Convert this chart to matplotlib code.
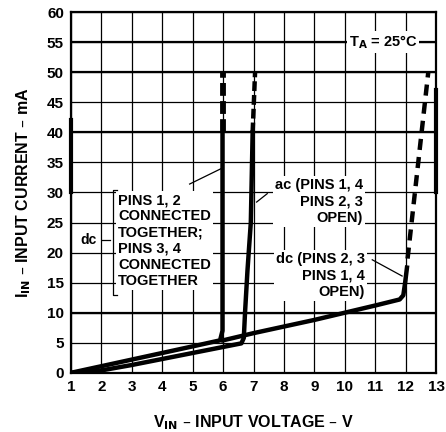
import matplotlib.pyplot as plt

plt.rcParams['font.family'] = ['Liberation Sans', 'DejaVu Sans']
plt.rcParams['font.weight'] = 'bold'
plt.rcParams['axes.labelweight'] = 'bold'
plt.rcParams['mathtext.default'] = 'bf'

# axis ticks
x_ticks = list(range(1, 14))
y_ticks = list(range(0, 61, 5))

# dc, pins 1,2 together and pins 3,4 together (solid part, then dashed)
dc12_v = [1.0, 2.0, 3.0, 4.0, 5.0, 5.9, 5.98, 5.98, 5.98]
dc12_i = [0.0, 1.1, 2.2, 3.3, 4.4, 5.4, 7.0, 20.0, 40.0]
dc12_dash_v = [5.98, 5.98]
dc12_dash_i = [40.0, 50.0]

# ac, pins 1,4 / pins 2,3 open
ac_v = [1.0, 2.0, 3.0, 4.0, 5.0, 6.0, 6.6, 6.68, 6.72, 6.8, 6.91, 6.97]
ac_i = [0.0, 0.4, 1.3, 2.3, 3.3, 4.3, 4.9, 5.8, 10.0, 17.0, 25.0, 40.0]
ac_dash_v = [6.97, 7.05]
ac_dash_i = [40.0, 50.0]

# dc, pins 2,3 / pins 1,4 open
dc23_v = [6.0, 7.0, 8.0, 9.0, 10.0, 11.0, 11.8, 11.92, 11.98, 12.04]
dc23_i = [5.4, 6.6, 7.7, 8.8, 10.0, 11.2, 12.2, 12.9, 15.0, 17.5]
dc23_dash_v = [12.06, 12.74]
dc23_dash_i = [19.0, 50.0]

fig = plt.figure(figsize=(4.46, 4.32), dpi=100)
ax = fig.add_axes([0.159, 0.137, 0.819, 0.835])

ax.set_xlim(1, 13)
ax.set_ylim(0, 60)
ax.set_xticks(x_ticks)
ax.set_yticks(y_ticks)
ax.tick_params(length=0, labelsize=11, pad=5)
for s in ax.spines.values():
    s.set_linewidth(1.6)
ax.grid(True, color='black', linewidth=0.9)
for yy in [10, 40, 50, 55]:
    ax.axhline(yy, color='black', linewidth=1.6, zorder=1)
ax.set_axisbelow(True)

# heavier bits along the borders, as in the print
ax.plot([1, 1], [30, 42], color='black', lw=3, clip_on=False)
ax.plot([13, 13], [30, 47], color='black', lw=3, clip_on=False)

lw = 3.2
ax.plot(dc12_v, dc12_i, color='black', lw=lw, solid_capstyle='butt', zorder=4)
ax.plot(dc12_dash_v, dc12_dash_i, color='black', lw=lw + 1, ls=(0, (2.2, 0.9)), zorder=4)
ax.plot(ac_v, ac_i, color='black', lw=lw, zorder=4)
ax.plot(ac_dash_v, ac_dash_i, color='black', lw=lw, ls=(0, (2.2, 0.9)), zorder=4)
ax.plot(dc23_v, dc23_i, color='black', lw=lw, zorder=4)
ax.plot(dc23_dash_v, dc23_dash_i, color='black', lw=lw, ls=(0, (2.5, 1.6)), zorder=4)

box = dict(facecolor='white', edgecolor='none', pad=1.5)
ax.text(11.25, 55, 'T$_A$ = 25°C', ha='center', va='center', fontsize=10.5, bbox=box, zorder=3)

ax.text(10.6, 28.5, 'ac (PINS 1, 4\nPINS 2, 3\nOPEN)', ha='right', va='center',
        fontsize=10.5, linespacing=1.22, bbox=box, zorder=3)
ax.plot([7.45, 7.1], [29.8, 28.4], color='black', lw=0.9, zorder=3)

ax.text(10.65, 16.2, 'dc (PINS 2, 3\nPINS 1, 4\nOPEN)', ha='right', va='center',
        fontsize=10.5, linespacing=1.22, bbox=box, zorder=3)
ax.plot([10.9, 11.88], [18.8, 16.1], color='black', lw=0.9, zorder=3)

ax.text(2.55, 22.0, 'PINS 1, 2\nCONNECTED\nTOGETHER;\nPINS 3, 4\nCONNECTED\nTOGETHER',
        ha='left', va='center', fontsize=10.5, linespacing=1.2, bbox=box, zorder=3)
ax.plot([2.5, 2.38, 2.38, 2.5], [30.4, 30.4, 13.0, 13.0], color='black', lw=0.9, zorder=3)
ax.text(1.58, 22.1, 'dc', ha='center', va='center', fontsize=10, bbox=box, zorder=3)
ax.plot([2.02, 2.3], [22.1, 22.1], color='black', lw=0.9, zorder=3)
ax.plot([4.9, 5.95], [31.4, 34.0], color='black', lw=0.9, zorder=3)

ax.set_xlabel('V$_{IN}$ – INPUT VOLTAGE – V', fontsize=11.5, labelpad=14)
ax.set_ylabel('I$_{IN}$ – INPUT CURRENT – mA', fontsize=11.5, labelpad=10)

fig.savefig('out.png', dpi=100)
